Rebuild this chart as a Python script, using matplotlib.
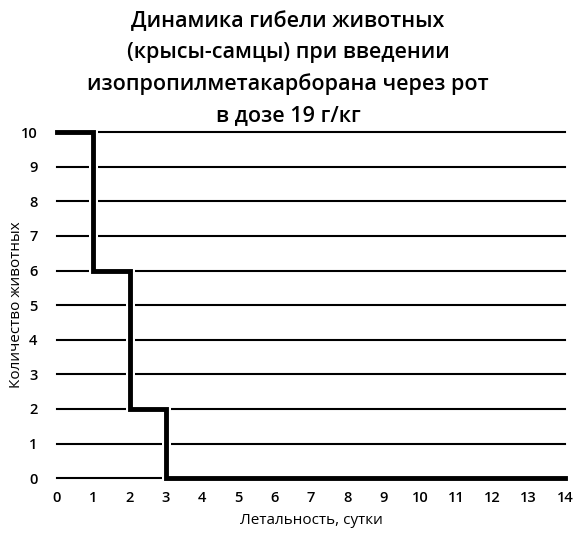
import matplotlib
matplotlib.use("Agg")
from matplotlib import pyplot as plt
import matplotlib.patheffects as pe

# data
days = [0, 1, 2, 3, 14]
alive = [10, 6, 2, 0, 0]
xticks = list(range(0, 15))
yticks = list(range(0, 11))

plt.rcParams['font.family'] = ['Open Sans', 'DejaVu Sans']

fig = plt.figure(figsize=(5.76, 5.33), dpi=100)
ax = fig.add_axes([0.099, 0.103, 0.882, 0.649])

ax.step(days, alive, where='post', color='black', linewidth=3.5, zorder=3,
        solid_joinstyle='miter',
        path_effects=[pe.Stroke(linewidth=6.5, foreground='white'), pe.Normal()])

ax.set_xlim(0, 14)
ax.set_ylim(0, 10)
ax.set_xticks(xticks)
ax.set_yticks(yticks)
ax.tick_params(length=0, labelsize=10.5, pad=9)
ax.tick_params(axis='y', pad=14)
for lab in ax.get_xticklabels() + ax.get_yticklabels():
    lab.set_fontweight('semibold')
ax.grid(axis='y', color='black', linewidth=1.5)
for s in ax.spines.values():
    s.set_visible(False)
for l in ax.get_lines():
    l.set_clip_on(False)
for l in ax.get_ygridlines():
    l.set_clip_on(False)

ax.set_xlabel("Летальность, сутки", fontsize=11, labelpad=6)
ax.set_ylabel("Количество животных", fontsize=11)
ax.yaxis.set_label_coords(-0.065, 0.5)

fig.text(0.5, 0.98,
         "Динамика гибели животных\n(крысы-самцы) при введении\n"
         "изопропилметакарборана через рот\nв дозе 19 г/кг",
         ha='center', va='top', fontsize=15.5, fontweight='semibold',
         linespacing=1.62)

fig.savefig("out.png", dpi=100)
